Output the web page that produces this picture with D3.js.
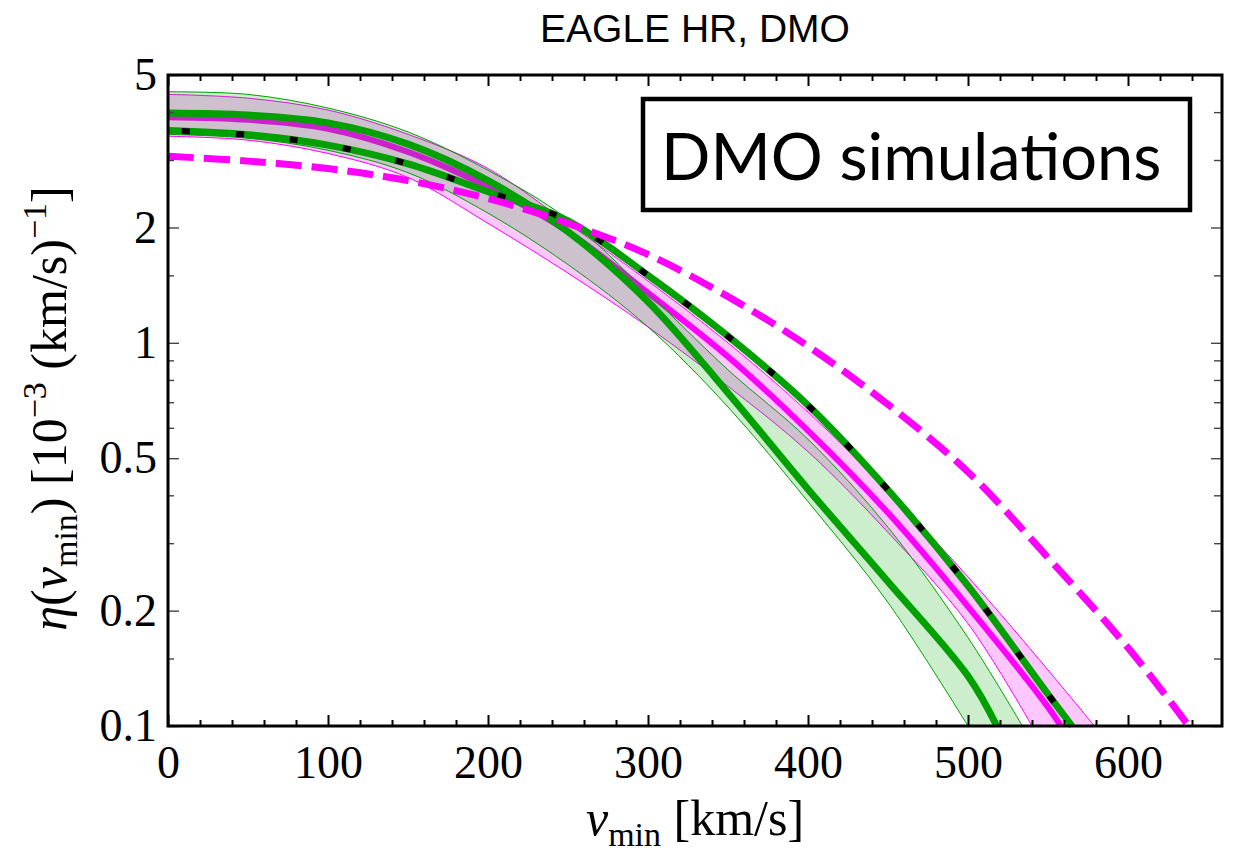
<!DOCTYPE html>
<html>
<head>
<meta charset="utf-8">
<script src="https://cdn.jsdelivr.net/npm/d3@7"></script>
<style>
	body { margin: 0; background: #fff; }
	svg { display: block; }
</style>
</head>
<body>
<div class="eta-chart"></div>
<script>
// v_min [km/s], eta(v_min) [10^-3 (km/s)^-1]
var greenUpper  = [[0,4.52],[50,4.45],[100,4.10],[150,3.55],[200,2.82],[250,2.10],[300,1.35],[350,0.85],[400,0.56],[450,0.33],[500,0.17],[534,0.1]];
var greenLower  = [[0,3.50],[50,3.42],[100,3.18],[150,2.78],[200,2.18],[250,1.60],[300,1.10],[350,0.68],[400,0.385],[450,0.21],[500,0.10]];
var greenMedian = [[0,3.98],[50,3.93],[100,3.75],[150,3.30],[200,2.65],[250,1.95],[300,1.28],[350,0.74],[400,0.415],[450,0.238],[500,0.135],[518,0.1]];

var pinkUpper   = [[0,4.45],[50,4.35],[100,4.05],[150,3.50],[200,2.85],[250,2.05],[300,1.45],[350,1.00],[400,0.66],[450,0.41],[500,0.245],[550,0.14],[579,0.1]];
var pinkLower   = [[0,3.46],[50,3.38],[100,3.12],[150,2.70],[200,2.05],[250,1.52],[300,1.10],[350,0.77],[400,0.52],[450,0.32],[500,0.185],[540,0.1]];
var pinkMedian  = [[0,3.88],[50,3.82],[100,3.62],[150,3.15],[200,2.55],[250,1.95],[300,1.35],[350,0.92],[400,0.59],[450,0.36],[500,0.205],[550,0.112],[558,0.1]];

var shmGreen    = [[0,3.58],[50,3.49],[100,3.28],[150,2.93],[200,2.48],[250,2.08],[300,1.50],[350,1.04],[400,0.687],[450,0.413],[500,0.232],[550,0.121],[565,0.1]];
var shmPink     = [[0,3.07],[50,2.98],[100,2.85],[150,2.65],[200,2.38],[250,2.05],[300,1.70],[350,1.32],[400,0.98],[450,0.69],[500,0.46],[550,0.275],[600,0.16],[638,0.1]];

var xMajor = [0,100,200,300,400,500,600];
var xMinor = d3.range(20, 660, 20).filter(d => d % 100 != 0);
var yMajor = [0.1,0.2,0.5,1,2,5];
var yMinor = [0.15,0.3,0.4,0.6,0.7,0.8,0.9,1.5,3,4];

var W = 1238, H = 853;
var margin = {top: 75, right: 16, bottom: 127, left: 168};
var width = W - margin.left - margin.right;
var height = H - margin.top - margin.bottom;

var serif = "'Liberation Serif', 'Times New Roman', serif";

var svg = d3.select(".eta-chart").append("svg")
	.attr("width", W)
	.attr("height", H);

var g = svg.append("g").attr("transform", "translate(" + margin.left + "," + margin.top + ")");

var x = d3.scaleLinear().domain([0, 658.75]).range([0, width]);
var y = d3.scaleLog().domain([0.1, 5]).range([height, 0]);

var line = d3.line()
	.x(d => x(d[0]))
	.y(d => y(d[1]))
	.curve(d3.curveCatmullRom.alpha(0.5));

function band(up, lo) {
	var a = line(up);
	var b = line(lo.slice().reverse());
	return a + "L" + b.slice(1) + "Z";
}

// pink band first, green band over it
g.append("path").attr("d", band(pinkUpper, pinkLower))
	.attr("fill", "rgba(255,0,255,0.22)").attr("stroke", "none");
g.append("path").attr("d", line(pinkUpper)).attr("fill", "none").attr("stroke", "#ff00ff").attr("stroke-width", 1);
g.append("path").attr("d", line(pinkLower)).attr("fill", "none").attr("stroke", "#ff00ff").attr("stroke-width", 1);
g.append("path").attr("d", line(pinkMedian)).attr("fill", "none").attr("stroke", "#ff00ff").attr("stroke-width", 6);

g.append("path").attr("d", band(greenUpper, greenLower))
	.attr("fill", "rgba(0,170,0,0.2)").attr("stroke", "none");
g.append("path").attr("d", line(greenUpper)).attr("fill", "none").attr("stroke", "#00a000").attr("stroke-width", 1);
g.append("path").attr("d", line(greenLower)).attr("fill", "none").attr("stroke", "#00a000").attr("stroke-width", 1);
g.append("path").attr("d", line(greenMedian)).attr("fill", "none").attr("stroke", "#00a000").attr("stroke-width", 7);

g.append("path").attr("d", line(shmGreen)).attr("fill", "none").attr("stroke", "#00a000").attr("stroke-width", 7);
g.append("path").attr("d", line(shmGreen)).attr("fill", "none").attr("stroke", "#000")
	.attr("stroke-width", 6).attr("stroke-dasharray", "8,46").attr("stroke-dashoffset", -14);

g.append("path").attr("d", line(shmPink)).attr("fill", "none").attr("stroke", "#ff00ff")
	.attr("stroke-width", 7).attr("stroke-dasharray", "26,10");

// ticks inside on all four sides
function tickAxis(axis, vals, size, tr) {
	var a = g.append("g").attr("transform", tr)
		.call(axis.tickValues(vals).tickSize(-size).tickFormat(""));
	a.select(".domain").remove();
	return a;
}

tickAxis(d3.axisBottom(x), xMinor, 6, "translate(0," + height + ")").selectAll("line").attr("stroke-width", 2);
tickAxis(d3.axisTop(x), xMinor, 6, "translate(0,0)").selectAll("line").attr("stroke-width", 2);
tickAxis(d3.axisTop(x), xMajor, 11, "translate(0,0)").selectAll("line").attr("stroke-width", 2);
tickAxis(d3.axisLeft(y), yMinor, 6, "translate(0,0)").selectAll("line").attr("stroke", "#444").attr("stroke-width", 1.4);
tickAxis(d3.axisRight(y), yMinor, 8, "translate(" + width + ",0)").selectAll("line").attr("stroke", "#444").attr("stroke-width", 1.4);
tickAxis(d3.axisRight(y), yMajor, 11, "translate(" + width + ",0)").selectAll("line").attr("stroke", "#444").attr("stroke-width", 1.4);

var xAxis = g.append("g").attr("transform", "translate(0," + height + ")")
	.call(d3.axisBottom(x).tickValues(xMajor).tickSize(-11).tickPadding(19).tickFormat(d3.format("d")));
xAxis.select(".domain").remove();
xAxis.selectAll("line").attr("stroke-width", 2);
xAxis.attr("font-family", serif).attr("font-size", 46);

var yAxis = g.append("g")
	.call(d3.axisLeft(y).tickValues(yMajor).tickSize(-11).tickPadding(11).tickFormat(d => String(d)));
yAxis.select(".domain").remove();
yAxis.selectAll("line").attr("stroke", "#444").attr("stroke-width", 1.4);
yAxis.attr("font-family", serif).attr("font-size", 46);

// frame
g.append("rect")
	.attr("width", width).attr("height", height)
	.attr("fill", "none").attr("stroke", "#000").attr("stroke-width", 3);

// legend box
var box = svg.append("g");
box.append("rect")
	.attr("x", 643).attr("y", 99).attr("width", 547).attr("height", 111)
	.attr("fill", "#fff").attr("stroke", "#000").attr("stroke-width", 4.5);
box.append("text")
	.attr("x", 661).attr("y", 180)
	.attr("font-family", "Lato, 'Open Sans', sans-serif")
	.attr("font-size", 65)
	.text("DMO simulations");

// title
svg.append("text")
	.attr("x", margin.left + width / 2).attr("y", 42)
	.attr("text-anchor", "middle")
	.attr("font-family", "'Liberation Sans', Arial, sans-serif")
	.attr("font-size", 39)
	.text("EAGLE HR, DMO");

// x label
var xl = svg.append("text")
	.attr("x", margin.left + width / 2).attr("y", 835)
	.attr("text-anchor", "middle")
	.attr("font-family", serif).attr("font-size", 50);
xl.append("tspan").attr("font-style", "italic").text("v");
xl.append("tspan").attr("font-size", 34).attr("dy", 11).text("min");
xl.append("tspan").attr("dy", -11).text(" [km/s]");

// y label
var yl = svg.append("text")
	.attr("transform", "translate(66," + (margin.top + height / 2 + 8) + ") rotate(-90)")
	.attr("text-anchor", "middle")
	.attr("font-family", serif).attr("font-size", 50);
yl.append("tspan").attr("font-style", "italic").text("η");
yl.append("tspan").text("(");
yl.append("tspan").attr("font-style", "italic").text("v");
yl.append("tspan").attr("font-size", 34).attr("dy", 11).text("min");
yl.append("tspan").attr("dy", -11).text(") [10");
yl.append("tspan").attr("font-size", 34).attr("dy", -20).text("−3");
yl.append("tspan").attr("dy", 20).text(" (km/s)");
yl.append("tspan").attr("font-size", 34).attr("dy", -20).text("−1");
yl.append("tspan").attr("dy", 20).text("]");
</script>
</body>
</html>
